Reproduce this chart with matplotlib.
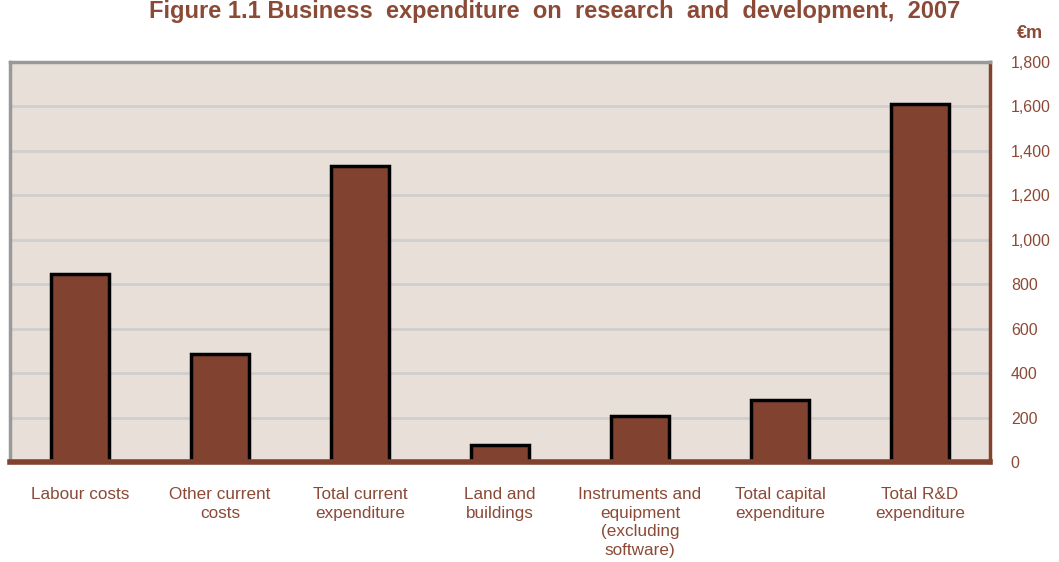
import matplotlib
matplotlib.use('Agg')
import matplotlib.pyplot as plt

plt.rcParams['font.family'] = ['Liberation Sans', 'DejaVu Sans']

categories = ['Labour costs', 'Other current\ncosts', 'Total current\nexpenditure',
              'Land and\nbuildings', 'Instruments and\nequipment\n(excluding\nsoftware)',
              'Total capital\nexpenditure', 'Total R&D\nexpenditure']
values = [845, 485, 1330, 75, 205, 280, 1610]
yticks = [0, 200, 400, 600, 800, 1000, 1200, 1400, 1600, 1800]

brown = '#81432f'
text_brown = '#8b4a36'

fig = plt.figure(figsize=(10.59, 5.62), dpi=100)
ax = fig.add_axes([10 / 1059, 100 / 562, 980 / 1059, 400 / 562])
ax.set_facecolor('#e8e0d8')

x = list(range(len(categories)))
ax.bar(x, values, width=0.41, color=brown, edgecolor='black', linewidth=2.5)

ax.set_xlim(-0.5, len(categories) - 0.5)
ax.set_ylim(0, 1800)
ax.set_axisbelow(True)
ax.yaxis.grid(True, color='#cfcfcf', linewidth=2)

ax.yaxis.tick_right()
ax.set_yticks(yticks)
ax.set_yticklabels([f'{v:,}' for v in yticks], color=text_brown, fontsize=11.5)
ax.set_xticks(x)
ax.set_xticklabels(categories, color=text_brown, fontsize=12.3, linespacing=1.3)
ax.tick_params(axis='y', length=0, pad=15)
ax.tick_params(axis='x', length=0, pad=18)

for side in ['left', 'top']:
    ax.spines[side].set_color('#999999')
    ax.spines[side].set_linewidth(2.5)
ax.spines['right'].set_color(brown)
ax.spines['right'].set_linewidth(2.5)
ax.spines['bottom'].set_color(brown)
ax.spines['bottom'].set_linewidth(4)

fig.text(555 / 1059, 1 - 18 / 562,
         'Figure 1.1 Business  expenditure  on  research  and  development,  2007',
         ha='center', va='baseline', fontsize=17, fontweight='bold', color=text_brown)
fig.text(1030 / 1059, 1 - 33 / 562, '€m', ha='center', va='center',
         fontsize=13, fontweight='bold', color=text_brown)

fig.savefig('out.png', dpi=100)
